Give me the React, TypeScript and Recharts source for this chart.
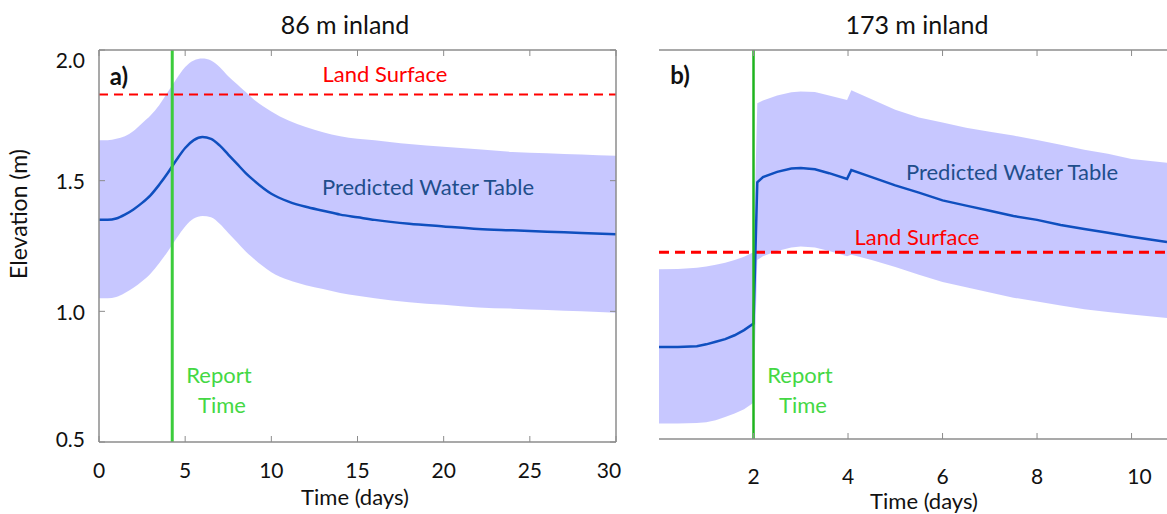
import React from "react";
import { ComposedChart, Area, Line, XAxis, YAxis, ReferenceLine } from "recharts";

// panel a) 86 m inland
const daysA = [0, 0.5, 1, 1.5, 2, 2.5, 3, 3.5, 4, 4.5, 5, 5.5, 6, 6.5, 7, 7.5, 8, 8.5, 9, 10, 11, 12, 13, 14, 15, 16, 18, 20, 22, 24, 26, 28, 30];
const tableA = [1.35, 1.35, 1.355, 1.37, 1.39, 1.415, 1.445, 1.485, 1.53, 1.58, 1.625, 1.655, 1.667, 1.66, 1.635, 1.6, 1.565, 1.53, 1.5, 1.45, 1.42, 1.4, 1.385, 1.37, 1.36, 1.35, 1.335, 1.325, 1.315, 1.31, 1.305, 1.3, 1.295];
const upperA = [1.655, 1.655, 1.66, 1.67, 1.69, 1.72, 1.75, 1.79, 1.84, 1.89, 1.935, 1.96, 1.967, 1.96, 1.935, 1.9, 1.87, 1.84, 1.81, 1.765, 1.73, 1.705, 1.685, 1.67, 1.66, 1.655, 1.64, 1.63, 1.62, 1.61, 1.605, 1.6, 1.595];
const lowerA = [1.05, 1.05, 1.055, 1.07, 1.09, 1.115, 1.145, 1.185, 1.23, 1.28, 1.325, 1.355, 1.365, 1.36, 1.335, 1.3, 1.265, 1.23, 1.2, 1.15, 1.12, 1.1, 1.085, 1.07, 1.06, 1.05, 1.035, 1.025, 1.015, 1.01, 1.005, 1.0, 0.995];
const landA = 1.83;
const reportA = 4.25;
const xTicksA = [0, 5, 10, 15, 20, 25, 30];

// panel b) 173 m inland
const daysB = [0, 0.4, 0.8, 1.0, 1.2, 1.4, 1.6, 1.8, 2.0, 2.08, 2.2, 2.5, 2.8, 3.0, 3.3, 3.6, 3.98, 4.07, 4.5, 5, 5.5, 6, 6.5, 7, 7.5, 8, 8.5, 9, 9.5, 10, 10.75];
const tableB = [0.855, 0.855, 0.858, 0.865, 0.875, 0.885, 0.9, 0.92, 0.945, 1.49, 1.51, 1.53, 1.543, 1.545, 1.54, 1.525, 1.503, 1.537, 1.51, 1.478, 1.45, 1.42, 1.4, 1.38, 1.36, 1.345, 1.325, 1.31, 1.295, 1.28, 1.26];
const upperB = [1.155, 1.156, 1.16, 1.165, 1.172, 1.18, 1.19, 1.203, 1.22, 1.795, 1.805, 1.825, 1.837, 1.84, 1.838, 1.825, 1.807, 1.845, 1.81, 1.77, 1.74, 1.72, 1.7, 1.685, 1.67, 1.653, 1.635, 1.615, 1.6, 1.58, 1.565];
const lowerB = [0.56, 0.56, 0.562, 0.565, 0.572, 0.585, 0.598, 0.615, 0.64, 1.19, 1.205, 1.225, 1.238, 1.242, 1.238, 1.225, 1.205, 1.21, 1.19, 1.163, 1.133, 1.105, 1.085, 1.065, 1.045, 1.03, 1.015, 1.0, 0.99, 0.98, 0.967];
const landB = 1.22;
const reportB = 2;
const xTicksB = [2, 4, 6, 8, 10];

const yTicks = [0.5, 1.0, 1.5, 2.0];

const dataA = daysA.map((t, i) => ({ t, wt: tableA[i], land: landA, band: [lowerA[i], upperA[i]] }));
const dataB = daysB.map((t, i) => ({ t, wt: tableB[i], land: landB, band: [lowerB[i], upperB[i]] }));

const font = "Lato, 'Open Sans', sans-serif";
const axisStroke = "#8c8c8c";

const NoTick = () => <g />;

function YTick({ x, y, payload }: any) {
  const v = payload.value;
  const nudge = v === 2 ? 9 : v === 0.5 ? -4 : 0;
  return (
    <text x={x} y={y + nudge} textAnchor="end" dominantBaseline="central" fill="#111" fontSize={21} fontFamily={font}>
      {v.toFixed(1)}
    </text>
  );
}

function makeXTick(shift: Record<number, number>) {
  return ({ x, y, payload }: any) => (
    <text x={x + (shift[payload.value] || 0)} y={y} textAnchor="middle" dominantBaseline="central" fill="#111" fontSize={21} fontFamily={font}>
      {payload.value}
    </text>
  );
}
const XTickA = makeXTick({ 30: -7 });
const XTickB = makeXTick({ 10: 8 });

function Note({ x, y, color, size = 22, bold = false, children }: any) {
  return (
    <div
      style={{
        position: "absolute",
        left: x,
        top: y,
        transform: "translate(-50%, -50%)",
        whiteSpace: "nowrap",
        color,
        fontSize: size,
        fontWeight: bold ? 700 : 400,
        fontFamily: font,
        lineHeight: 1,
        textAlign: "center",
      }}
    >
      {children}
    </div>
  );
}

const frame = { stroke: axisStroke, strokeWidth: 1.5 };

export default function App() {
  return (
    <div style={{ position: "absolute", left: 0, top: 0, width: 1167, height: 514, background: "#fff", overflow: "hidden" }}>
      <div style={{ position: "absolute", left: 0, top: 0 }}>
        <ComposedChart width={630} height={514} data={dataA} margin={{ top: 49, right: 13, bottom: 32, left: 39 }}>
          <XAxis dataKey="t" type="number" domain={[0, 30]} ticks={xTicksA} allowDataOverflow
            height={40} tickSize={-6} tickMargin={33} tick={XTickA} axisLine={frame} tickLine={{ stroke: axisStroke }} />
          <XAxis xAxisId="top" dataKey="t" orientation="top" type="number" domain={[0, 30]} ticks={xTicksA} allowDataOverflow
            height={1} tickSize={-6} tick={NoTick} axisLine={frame} tickLine={{ stroke: axisStroke }} />
          <YAxis type="number" domain={[0.5, 2.0]} ticks={yTicks} allowDataOverflow
            width={60} tickSize={-6} tickMargin={20} tick={YTick} axisLine={frame} tickLine={{ stroke: axisStroke }} />
          <YAxis yAxisId="r" orientation="right" type="number" domain={[0.5, 2.0]} ticks={yTicks} allowDataOverflow
            width={1} tickSize={-6} tick={NoTick} axisLine={frame} tickLine={{ stroke: axisStroke }} />
          <Line dataKey="land" type="linear" stroke="#ff0000" strokeWidth={2} strokeDasharray="9 6" dot={false} activeDot={false} isAnimationActive={false} />
          <Area dataKey="band" xAxisId="top" yAxisId="r" type="monotone" stroke="none" fill="#0000ff" fillOpacity={0.22} isAnimationActive={false} />
          <Line dataKey="wt" type="monotone" stroke="#0f4fbf" strokeWidth={2.5} dot={false} activeDot={false} isAnimationActive={false} />
          <ReferenceLine x={reportA} stroke="#3ccc3c" strokeWidth={3} />
        </ComposedChart>
      </div>
      <div style={{ position: "absolute", left: 640, top: 0 }}>
        <ComposedChart width={527} height={514} data={dataB} margin={{ top: 49, right: 0, bottom: 35, left: 19 }}>
          <XAxis dataKey="t" type="number" domain={[0, 10.75]} ticks={xTicksB} allowDataOverflow
            height={40} tickSize={-6} tickMargin={42} tick={XTickB} axisLine={frame} tickLine={{ stroke: axisStroke }} />
          <XAxis xAxisId="top" dataKey="t" orientation="top" type="number" domain={[0, 10.75]} ticks={xTicksB} allowDataOverflow
            height={1} tickSize={-6} tick={NoTick} axisLine={frame} tickLine={{ stroke: axisStroke }} />
          <YAxis type="number" domain={[0.5, 2.0]} ticks={yTicks} allowDataOverflow
            width={0} tickSize={-6} tick={NoTick} axisLine={frame} tickLine={{ stroke: axisStroke }} />
          <Line dataKey="land" type="linear" stroke="#ff0000" strokeWidth={3} strokeDasharray="10 6" dot={false} activeDot={false} isAnimationActive={false} />
          <Area dataKey="band" xAxisId="top" type="linear" stroke="none" fill="#0000ff" fillOpacity={0.22} isAnimationActive={false} />
          <Line dataKey="wt" type="linear" stroke="#0f4fbf" strokeWidth={2.5} dot={false} activeDot={false} isAnimationActive={false} />
          <ReferenceLine x={reportB} stroke="#1fb41f" strokeWidth={2.5} />
        </ComposedChart>
      </div>

      <Note x={345} y={24} color="#111" size={25}>86 m inland</Note>
      <Note x={917} y={24} color="#111" size={25}>173 m inland</Note>
      <Note x={119} y={76} color="#111" size={24} bold>a)</Note>
      <Note x={680} y={75} color="#111" size={24} bold>b)</Note>
      <Note x={385} y={74} color="#ff0000">Land Surface</Note>
      <Note x={917} y={237} color="#ff0000">Land Surface</Note>
      <Note x={428} y={187} color="#1f4e8c">Predicted Water Table</Note>
      <Note x={1012} y={172} color="#1f4e8c">Predicted Water Table</Note>
      <Note x={219} y={375} color="#44d844">Report</Note>
      <Note x={222} y={405} color="#44d844">Time</Note>
      <Note x={800} y={375} color="#44d844">Report</Note>
      <Note x={803} y={405} color="#44d844">Time</Note>
      <Note x={355} y={497} color="#111" size={22}>Time (days)</Note>
      <Note x={924} y={501} color="#111" size={22}>Time (days)</Note>
      <div
        style={{
          position: "absolute",
          left: 18,
          top: 214,
          transform: "translate(-50%, -50%) rotate(-90deg)",
          whiteSpace: "nowrap",
          fontSize: 23,
          fontFamily: font,
          color: "#111",
          lineHeight: 1,
        }}
      >
        Elevation (m)
      </div>
    </div>
  );
}
